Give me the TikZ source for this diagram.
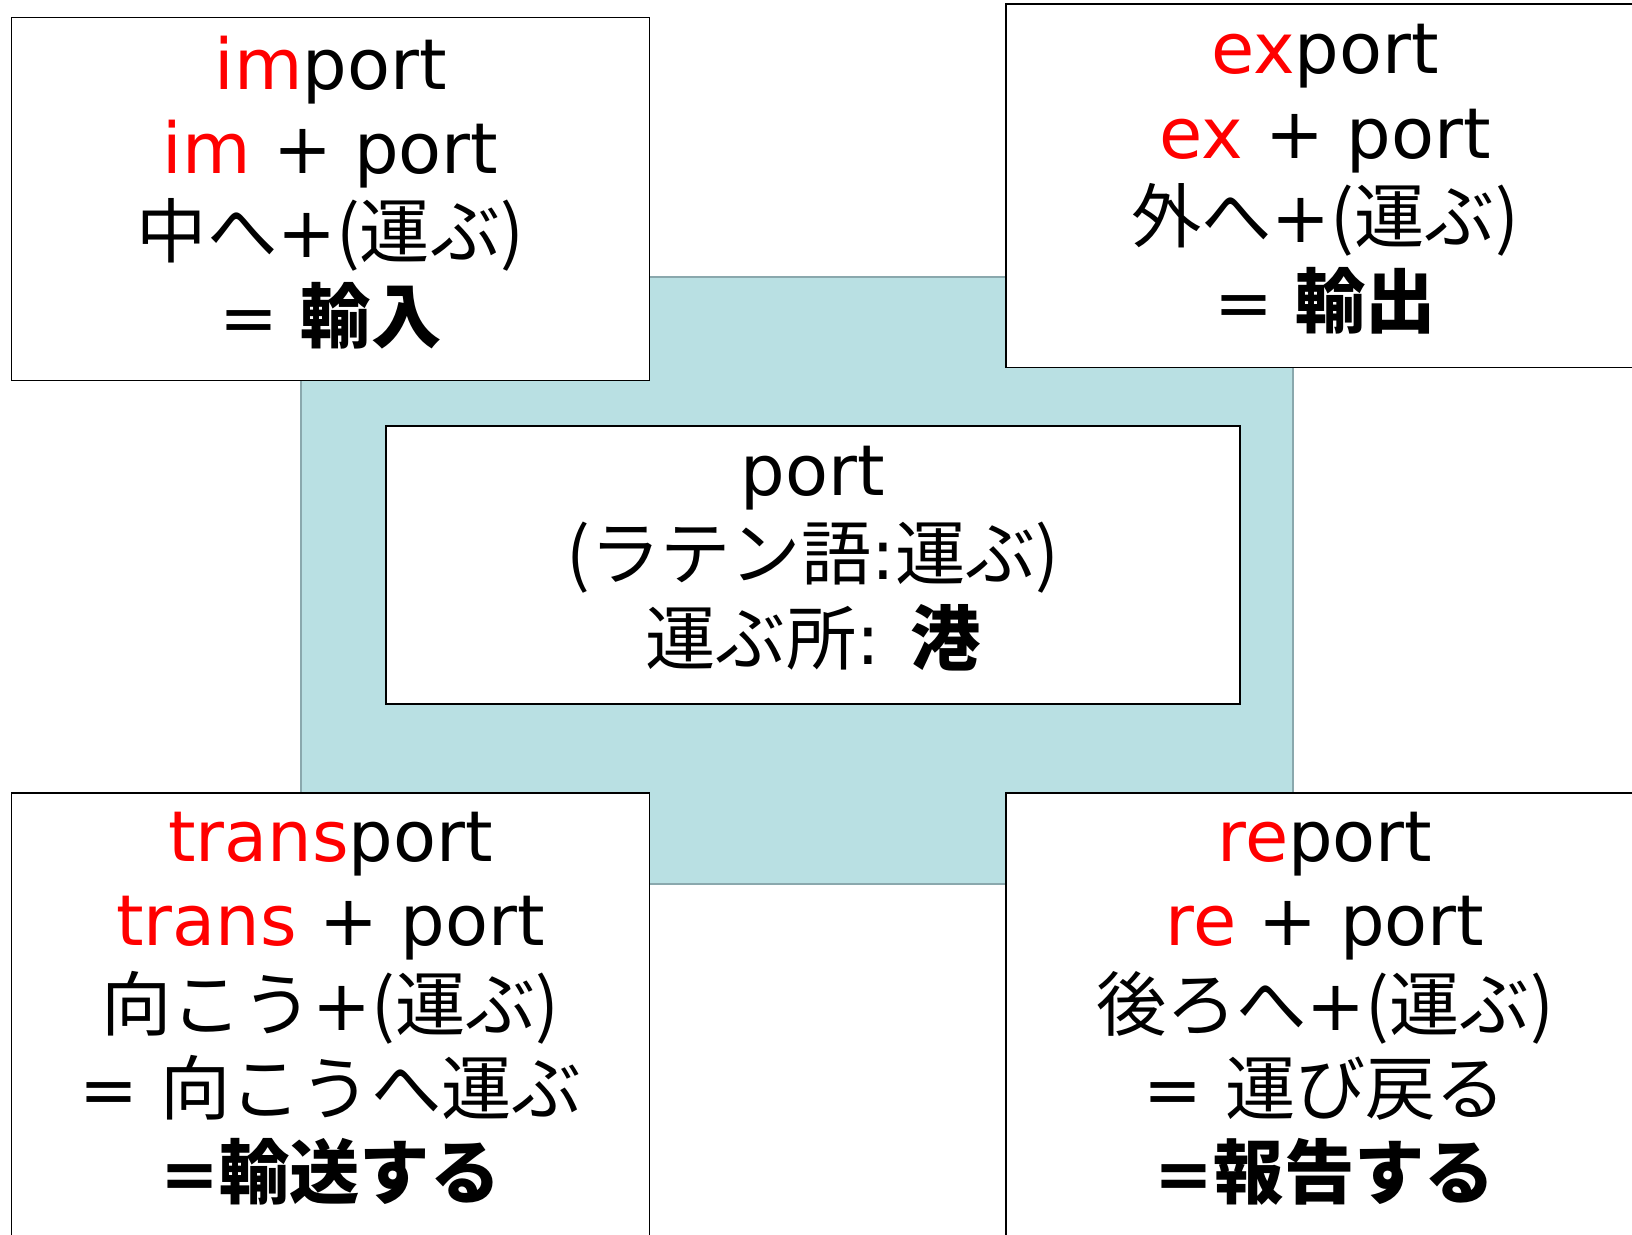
\documentclass[tikz,border=0pt]{standalone}
\usepackage{fontspec}
\setmainfont{DejaVu Sans}
\newfontfamily\jpfont{Noto Sans CJK JP}
\usepackage{xcolor}
\definecolor{portteal}{RGB}{185,224,227}
\definecolor{portedge}{RGB}{138,168,173}
\newcommand{\pre}[1]{\textcolor{red}{#1}}
\newcommand{\ja}[1]{{\jpfont #1}}
\newcommand{\lift}{\rule[-0.2cm]{0pt}{0pt}}

\begin{document}
\begin{tikzpicture}[
    wordbox/.style={draw, rectangle, fill=white, line width=0.5pt, inner sep=0pt,
        minimum width=6.38cm, align=center, font=\fontsize{20pt}{24pt}\selectfont},
    rootbox/.style={wordbox, minimum width=8.54cm, minimum height=2.78cm}
]
    \clip (0,0) rectangle (16.32,-12.34);
    \useasboundingbox (0,0) rectangle (16.32,-12.34);

    % Background (port carrier)
    \node[draw=portedge, fill=portteal, line width=0.6pt, rectangle, minimum width=9.92cm, minimum height=6.07cm] (carrier) at (7.97,-5.805) {};

    % Root word (center)
    \node[rootbox] (portbox) at (8.13,-5.65) {port\\\ja{(ラテン語}:\ja{運ぶ)}\\\ja{運ぶ所}: \ja{\textbf{港}}\lift};

    % Upper words
    \node[wordbox, minimum height=3.63cm] (importbox) at (3.305,-1.99)
        {\pre{im}port\\\pre{im} + port\\\ja{中へ}+\ja{(運ぶ)}\\= \ja{\textbf{輸入}}\lift};
    \node[wordbox, minimum height=3.635cm] (exportbox) at (13.25,-1.858)
        {\pre{ex}port\\\pre{ex} + port\\\ja{外へ}+\ja{(運ぶ)}\\= \ja{\textbf{輸出}}\lift};

    % Lower words
    \node[wordbox, minimum height=4.45cm] (transportbox) at (3.305,-10.155)
        {\pre{trans}port\\\pre{trans} + port\\\ja{向こう}+\ja{(運ぶ)}\\= \ja{向こうへ運ぶ}\\\textbf{=}\ja{\textbf{輸送する}}\lift};
    \node[wordbox, minimum height=4.45cm] (reportbox) at (13.25,-10.155)
        {\pre{re}port\\\pre{re} + port\\\ja{後ろへ}+\ja{(運ぶ)}\\= \ja{運び戻る}\\\textbf{=}\ja{\textbf{報告する}}\lift};
\end{tikzpicture}
\end{document}
